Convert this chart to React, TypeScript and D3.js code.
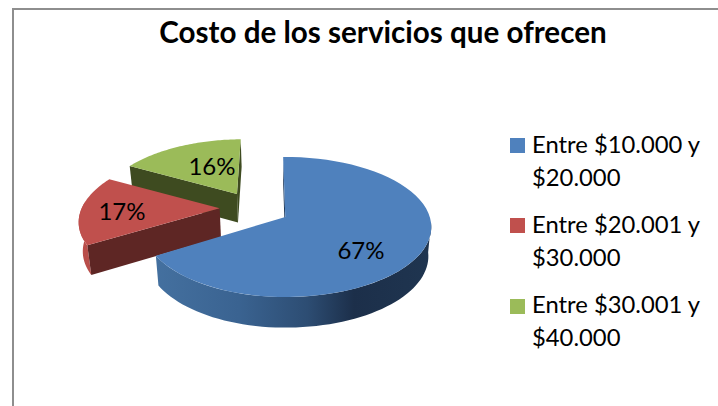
import React from "react";
import * as d3 from "d3";

const titleText = "Costo de los servicios que ofrecen";
const categories = ["Entre $10.000 y", "Entre $20.001 y", "Entre $30.001 y"];
const categoriesLine2 = ["$20.000", "$30.000", "$40.000"];
const values = [67, 17, 16];
const percentLabels = ["67%", "17%", "16%"];
const topColors = ["#4f81bd", "#c0504d", "#9bbb59"];
const faceColors = ["#1f3a5c", "#5e2624", "#3e4b20"];
const rimColors = ["url(#blueWall)", "#b94e4a", "#5a6d30"];
const explodeU = [0, -0.476, -0.361];
const explodeV = [0, 0.129, 0.352];
const startTweakDeg = [0, -1.5, -2.8];
const endTweakDeg = [-1.7, -3.5, 0];
const labelX = [361, 122, 212];
const labelY = [259, 220, 175];
const swatchY = [138, 218, 299];
const legendBase1 = [153, 233, 313];
const legendBase2 = [186, 266, 346];

const W = 718, H = 406;
const font = "Lato, Carlito, 'Open Sans', sans-serif";
const AX = 285.3, AY = 217, RX_RIGHT = 144.5, RX_LEFT = 140.5, RY = 68.6, K = 1 / 7;
const rad = (d: number) => (d * Math.PI) / 180;

const project = (u: number, v: number): [number, number] => {
  const s = 1 / (1 + K * v);
  return [AX + (u < 0 ? RX_LEFT : RX_RIGHT) * u * s, AY - RY * v * s];
};
const drop = ([x, y]: [number, number]): [number, number] => [
  AX + (x - AX) * 0.98,
  AY + 29 + (y - AY) * 1.02,
];

const arcs = d3
  .pie<number>()
  .sort(null)
  .startAngle(rad(-1))
  .endAngle(rad(359))(values);

const line = d3.line<[number, number]>();
const rimPoint = (i: number, t: number) =>
  project(explodeU[i] + Math.sin(t), explodeV[i] + Math.cos(t));
const apexPoint = (i: number) => project(explodeU[i], explodeV[i]);
const rim = (i: number, a: number, b: number) => {
  const n = 60;
  return d3.range(n + 1).map((j) => rimPoint(i, a + ((b - a) * j) / n));
};

const Slice = ({ i }: { i: number }) => {
  const a = arcs[i].startAngle + rad(startTweakDeg[i]);
  const b = arcs[i].endAngle + rad(endTweakDeg[i]);
  const apex = apexPoint(i);
  const r = rim(i, a, b);
  const first = r[0];
  const last = r[r.length - 1];
  const cutPts: [number, number][] = i === 0 ? [] : [first, apex, drop(apex), drop(first)];
  const backCut: [number, number][] =
    i === 1 ? [] : i === 0 ? [first, apex, drop(apex), drop(first)] : [last, apex, drop(apex), drop(last)];
  const wallRange: [number, number] | null =
    i === 0 ? [rad(95), b] : i === 1 ? [a, rad(276)] : null;
  let wall: [number, number][] | null = null;
  if (wallRange) {
    const w = rim(i, wallRange[0], wallRange[1]);
    wall = [...w, ...w.map(drop).reverse()];
  }
  return (
    <g>
      {backCut.length > 0 && <path d={line(backCut)! + "Z"} fill={faceColors[i]} />}
      {wall && <path d={line(wall)! + "Z"} fill={rimColors[i]} />}
      {cutPts.length > 0 && <path d={line(cutPts)! + "Z"} fill={faceColors[i]} />}
      <path d={line([apex, ...r])! + "Z"} fill={topColors[i]} />
    </g>
  );
};

export default function App() {
  return (
    <svg
      width={W}
      height={H}
      viewBox={`0 0 ${W} ${H}`}
      style={{ position: "absolute", left: 0, top: 0, background: "#fff" }}
    >
      <defs>
        <linearGradient id="blueWall" gradientUnits="userSpaceOnUse" x1={156} x2={431} y1={0} y2={0}>
          <stop offset="0" stopColor="#44709f" />
          <stop offset="0.3" stopColor="#3a6391" />
          <stop offset="0.55" stopColor="#2d4d73" />
          <stop offset="0.72" stopColor="#1c2f4a" />
          <stop offset="1" stopColor="#1f3550" />
        </linearGradient>
      </defs>
      <path d={`M13 ${H}V9H${W}`} fill="none" stroke="#8e8e8e" strokeWidth={2} />
      <text x={383} y={43} textAnchor="middle" fontFamily={font} fontWeight={700} fontSize={29.6} fill="#000">
        {titleText}
      </text>
      {[2, 1, 0].map((i) => (
        <Slice key={i} i={i} />
      ))}
      {percentLabels.map((t, i) => (
        <text key={t} x={labelX[i]} y={labelY[i]} textAnchor="middle" fontFamily={font} fontSize={24} fill="#000">
          {t}
        </text>
      ))}
      {categories.map((c, i) => (
        <g key={c}>
          <rect x={510} y={swatchY[i]} width={15} height={15} fill={topColors[i]} />
          <text x={532} y={legendBase1[i]} fontFamily={font} fontSize={23.8} fill="#000">
            {c}
          </text>
          <text x={532} y={legendBase2[i]} fontFamily={font} fontSize={23.8} fill="#000">
            {categoriesLine2[i]}
          </text>
        </g>
      ))}
    </svg>
  );
}
